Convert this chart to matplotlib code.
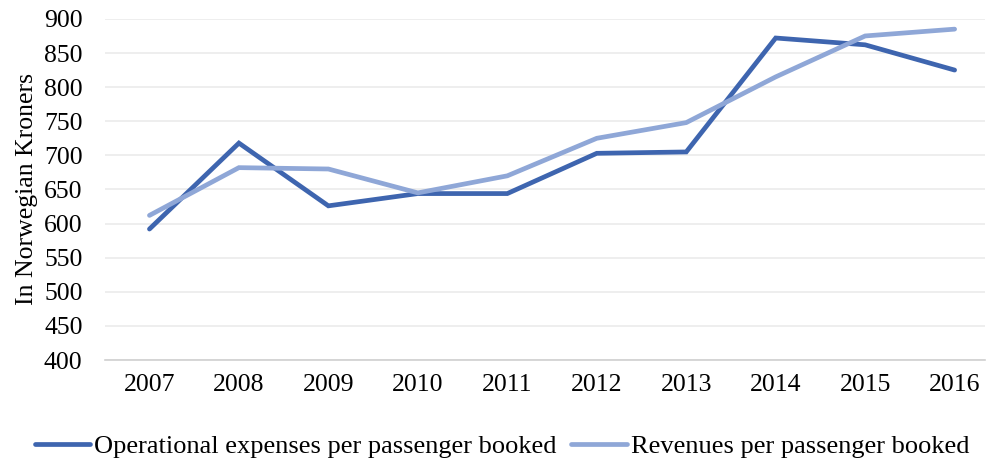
import matplotlib
matplotlib.use("Agg")
import matplotlib.pyplot as plt

years = ["2007", "2008", "2009", "2010", "2011", "2012", "2013", "2014", "2015", "2016"]
expenses = [592, 718, 626, 644, 644, 703, 705, 872, 862, 825]
revenues = [612, 682, 680, 645, 670, 725, 748, 815, 875, 885]

plt.rcParams['font.family'] = ['Liberation Serif', 'DejaVu Serif']
fs = 18.5

fig = plt.figure(figsize=(9.88, 4.61), dpi=100)
ax = fig.add_axes([0.106, 0.219, 0.891, 0.740])

x = range(len(years))
ax.plot(x, expenses, color="#3E65AF", lw=3.4, solid_capstyle="round",
        solid_joinstyle="miter", label="Operational expenses per passenger booked")
ax.plot(x, revenues, color="#8FA7D7", lw=3.4, solid_capstyle="round",
        solid_joinstyle="miter", label="Revenues per passenger booked")

ax.set_ylim(400, 900)
ax.set_yticks(range(400, 901, 50))
ax.set_xlim(-0.5, 9.34)
ax.set_xticks(list(x))
ax.set_xticklabels(years)
ax.tick_params(axis="both", length=0, labelsize=fs, colors="black")
ax.tick_params(axis="x", pad=10)
ax.tick_params(axis="y", pad=16)
ax.grid(axis="y", color="#EBEBEB", lw=1.2)
ax.set_axisbelow(True)
for s in ["top", "right", "left"]:
    ax.spines[s].set_visible(False)
ax.spines["bottom"].set_color("#D0D0D0")
ax.spines["bottom"].set_linewidth(1.2)

ax.set_ylabel("In Norwegian Kroners", fontsize=fs, labelpad=4)

fig.legend(loc="lower center", bbox_to_anchor=(0.508, -0.045), ncol=2, frameon=False,
           fontsize=19, handlelength=2.1, handletextpad=0.15, columnspacing=0.55)

fig.savefig("out.png", dpi=100)
